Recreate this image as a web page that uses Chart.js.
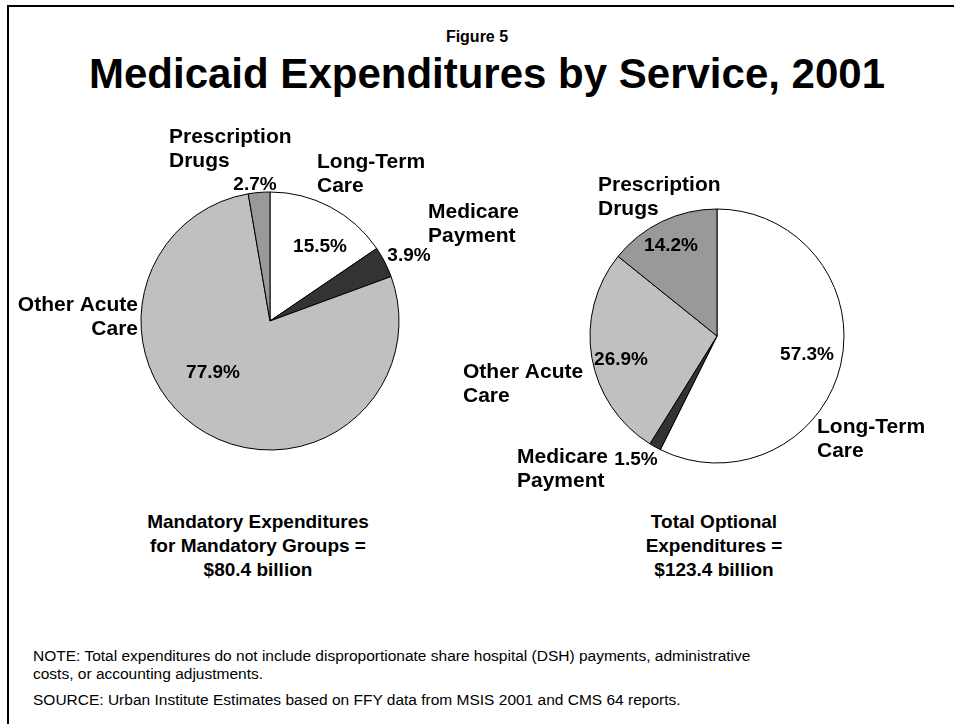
<!DOCTYPE html>
<html>
<head>
<meta charset="utf-8">
<title>Medicaid Expenditures by Service, 2001</title>
<script src="https://cdn.jsdelivr.net/npm/chart.js@4.4.1/dist/chart.umd.min.js"></script>
<style>
  html, body { margin: 0; padding: 0; background: #fff; }
  body { width: 954px; height: 724px; position: relative; overflow: hidden;
         font-family: "Liberation Sans", Arial, Helvetica, sans-serif; color: #000; }
  .frame-top { position: absolute; left: 7px; top: 5px; width: 947px; height: 2px; background: #000; }
  .frame-left { position: absolute; left: 7px; top: 5px; width: 2px; height: 719px; background: #000; }
  .txt { position: absolute; white-space: nowrap; }
  .fig { left: 0; width: 954px; top: 29px; text-align: center; font-weight: bold; font-size: 16px; line-height: 16px; }
  .title { left: 10px; width: 954px; top: 53px; text-align: center; font-weight: bold; font-size: 42px; line-height: 42px; }
  .cap { width: 400px; text-align: center; font-weight: bold; font-size: 19px; line-height: 24px; top: 510px; }
  .note { left: 33px; font-size: 15.5px; line-height: 18px; }
  canvas { position: absolute; left: 0; top: 0; }
</style>
</head>
<body>
<div class="frame-top"></div>
<div class="frame-left"></div>

<div class="txt fig">Figure 5</div>
<div class="txt title">Medicaid Expenditures by Service, 2001</div>

<div class="txt cap" style="left:58px">Mandatory Expenditures<br>for Mandatory Groups =<br>$80.4 billion</div>
<div class="txt cap" style="left:514px">Total Optional<br>Expenditures =<br>$123.4 billion</div>

<div class="txt note" style="top:647px">NOTE: Total expenditures do not include disproportionate share hospital (DSH) payments, administrative</div>
<div class="txt note" style="top:665px">costs, or accounting adjustments.</div>
<div class="txt note" style="top:691px">SOURCE: Urban Institute Estimates based on FFY data from MSIS 2001 and CMS 64 reports.</div>

<canvas id="mandatory" width="954" height="724"></canvas>
<canvas id="optional" width="954" height="724"></canvas>

<script>
// Service categories, in drawing order (clockwise from 12 o'clock)
const categories = ['Long-Term Care', 'Medicare Payment', 'Other Acute Care', 'Prescription Drugs'];
const categoryLines = [['Long-Term', 'Care'], ['Medicare', 'Payment'], ['Other Acute', 'Care'], ['Prescription', 'Drugs']];

// Share of spending (%) for each category
const mandatoryShares = [15.5, 3.9, 77.9, 2.7];
const optionalShares = [57.3, 1.5, 26.9, 14.2];

// Slice fills per category
const sliceColors = ['#ffffff', '#333333', '#c0c0c0', '#999999'];

const FONT = '"Liberation Sans", Arial, Helvetica, sans-serif';
const W = 954, H = 724;

// Pie placement and label offsets (relative to the pie centre)
const mandatoryLayout = {
  cx: 270, cy: 321, r: 129,
  valueAt: [[50, -74], [139, -65], [-57, 52], [-15, -136]],
  nameAt: [[47, -159, 'left'], [158, -109, 'left'], [-132, -16, 'right'], [-101, -184, 'left']]
};
const optionalLayout = {
  cx: 717, cy: 336, r: 127,
  valueAt: [[90, 19], [-81, 124], [-96, 24], [-46, -90]],
  nameAt: [[100, 91, 'left'], [-200, 121, 'left'], [-254, 36, 'left'], [-119, -151, 'left']]
};

// Draws the percentage and the category name next to each slice
const sliceLabels = {
  id: 'sliceLabels',
  afterDatasetsDraw(chart, args, opts) {
    const ctx = chart.ctx;
    const values = chart.data.datasets[0].data;
    const arc = chart.getDatasetMeta(0).data[0];
    const cx = arc.x, cy = arc.y;
    ctx.save();
    ctx.fillStyle = '#000';
    ctx.textBaseline = 'middle';
    values.forEach((v, i) => {
      const p = opts.valueAt[i];
      ctx.font = 'bold 19px ' + FONT;
      ctx.textAlign = 'center';
      ctx.fillText(v.toFixed(1) + '%', cx + p[0], cy + p[1]);
      const n = opts.nameAt[i];
      ctx.font = 'bold 21px ' + FONT;
      ctx.textAlign = n[2];
      categoryLines[i].forEach((line, k) => ctx.fillText(line, cx + n[0], cy + n[1] + k * 24));
    });
    ctx.restore();
  }
};

function makePie(id, values, layout) {
  const size = 2 * layout.r + 1;
  const left = layout.cx - size / 2;
  const top = layout.cy - size / 2;
  return new Chart(document.getElementById(id), {
    type: 'pie',
    data: {
      labels: categories,
      datasets: [{
        data: values,
        backgroundColor: sliceColors,
        borderColor: '#000000',
        borderWidth: 1
      }]
    },
    options: {
      responsive: false,
      animation: false,
      events: [],
      layout: { padding: { left: left, top: top, right: W - left - size, bottom: H - top - size } },
      plugins: {
        legend: { display: false },
        tooltip: { enabled: false },
        sliceLabels: { valueAt: layout.valueAt, nameAt: layout.nameAt }
      }
    },
    plugins: [sliceLabels]
  });
}

makePie('mandatory', mandatoryShares, mandatoryLayout);
makePie('optional', optionalShares, optionalLayout);
</script>
</body>
</html>
